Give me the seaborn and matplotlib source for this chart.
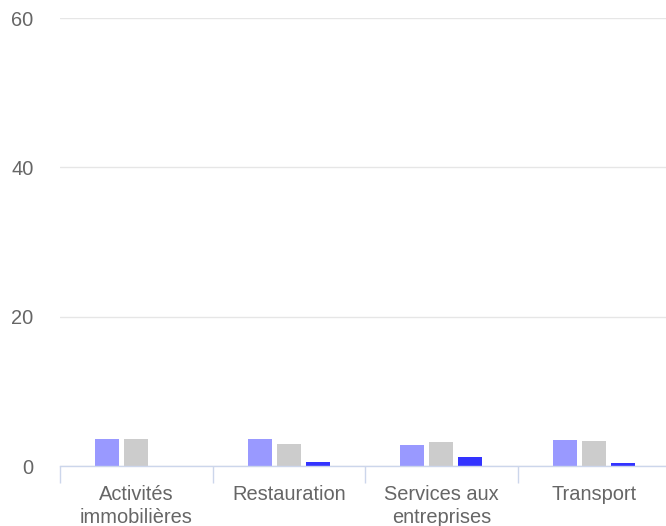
import matplotlib
matplotlib.use("Agg")
import matplotlib.pyplot as plt
import seaborn as sns
import pandas as pd
import numpy as np

categories = ["Activités\nimmobilières", "Restauration", "Services aux\nentreprises", "Transport"]
series_names = ["Série 1", "Série 2", "Série 3"]
series1 = [3.6, 3.6, 2.85, 3.45]
series2 = [3.55, 2.9, 3.2, 3.4]
series3 = [0.0, 0.6, 1.15, 0.4]
colors = ["#9999ff", "#cccccc", "#3333ff"]
yticks = [0, 20, 40, 60]

rows = []
for name, vals in zip(series_names, [series1, series2, series3]):
    for c, v in zip(categories, vals):
        rows.append({"cat": c, "serie": name, "val": v})
df = pd.DataFrame(rows)

sns.set_style("white")
plt.rcParams["font.family"] = ["Liberation Sans", "DejaVu Sans"]

fig = plt.figure(figsize=(6.66, 5.26), dpi=100)
ax = fig.add_axes([60/666, 60/526, 610/666, 448/526])

sns.barplot(data=df, x="cat", y="val", hue="serie", palette=colors,
            width=0.57, gap=0.17, ax=ax, legend=False, saturation=1,
            edgecolor="none", linewidth=0)

ax.set_ylim(0, 60)
ax.set_xlim(-0.5, len(categories) - 0.5)
ax.set_yticks(yticks)
ax.set_yticklabels([str(t) for t in yticks])
ax.grid(axis="y", color="#e6e6e6", linewidth=1)
ax.set_axisbelow(True)
for s in ["top", "right", "left"]:
    ax.spines[s].set_visible(False)
ax.spines["bottom"].set_color("#ccd6eb")
ax.spines["bottom"].set_linewidth(1)
ax.set_xlabel("")
ax.set_ylabel("")

ax.tick_params(axis="y", length=0, pad=19, labelsize=14.4, labelcolor="#666666")
ax.tick_params(axis="x", which="major", bottom=True, length=0, pad=13.5, labelsize=14.4, labelcolor="#666666")
ax.set_xticks(np.arange(-0.5, len(categories), 1.0), minor=True)
ax.tick_params(axis="x", which="minor", bottom=True, length=12.5, width=1, color="#ccd6eb")
for lbl in ax.get_xticklabels():
    lbl.set_linespacing(1.3)

fig.savefig("out.png", dpi=100)
